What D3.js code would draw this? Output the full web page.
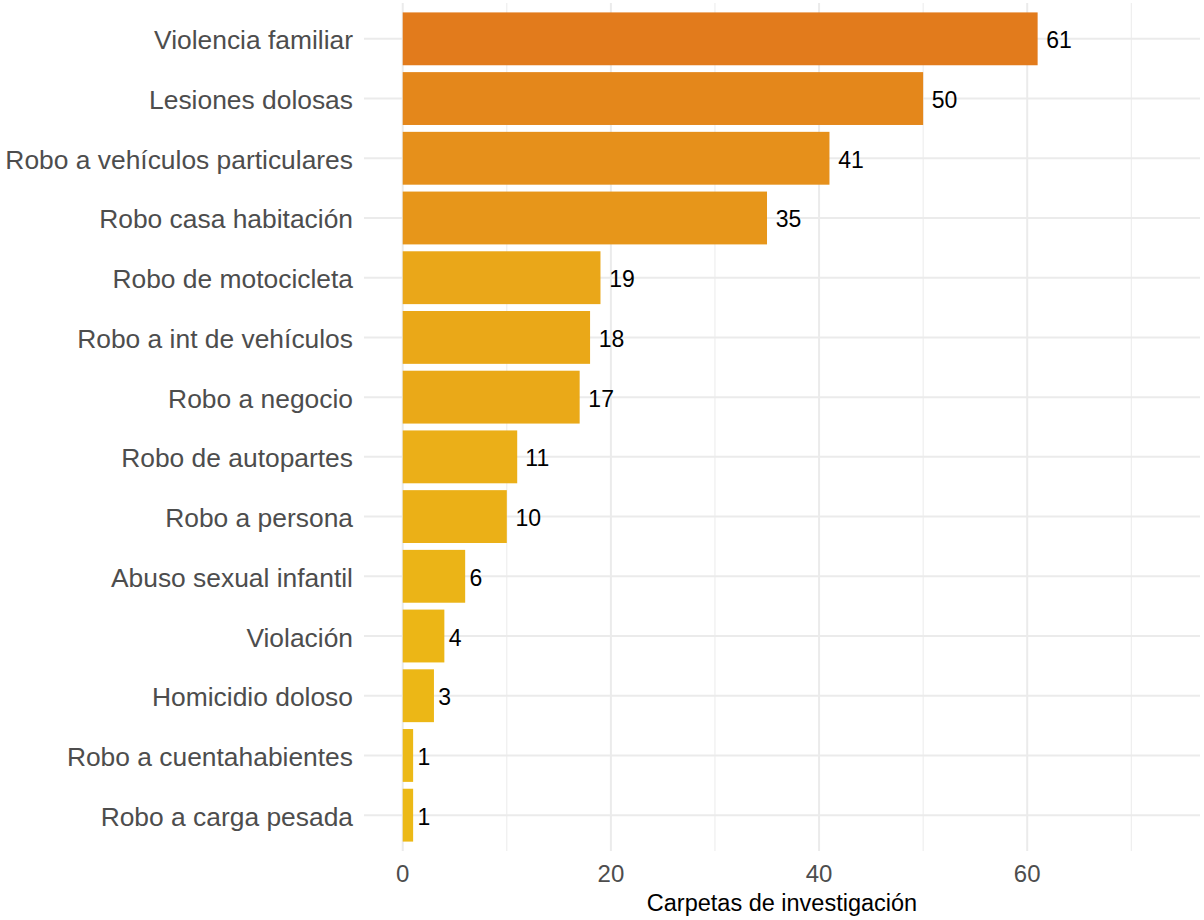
<!DOCTYPE html>
<html>
<head>
<meta charset="utf-8">
<script src="https://cdn.jsdelivr.net/npm/d3@7"></script>
<style>
  html, body { margin: 0; padding: 0; background: #ffffff; }
  svg { display: block; font-family: "Liberation Sans", Arial, sans-serif; }
</style>
</head>
<body>
<svg id="chart" width="1204" height="920"></svg>
<script>
const categories = [
  "Violencia familiar",
  "Lesiones dolosas",
  "Robo a vehículos particulares",
  "Robo casa habitación",
  "Robo de motocicleta",
  "Robo a int de vehículos",
  "Robo a negocio",
  "Robo de autopartes",
  "Robo a persona",
  "Abuso sexual infantil",
  "Violación",
  "Homicidio doloso",
  "Robo a cuentahabientes",
  "Robo a carga pesada"
];
const values = [61, 50, 41, 35, 19, 18, 17, 11, 10, 6, 4, 3, 1, 1];
const xTicks = [0, 20, 40, 60];
const xMinorTicks = [10, 30, 50, 70];
const xTitle = "Carpetas de investigación";
const colorLow = "#ECB916";
const colorHigh = "#E27B1C";

const svg = d3.select("#chart");
const panel = { left: 364, right: 1200, top: 3, bottom: 851 };

const x = d3.scaleLinear().domain([-3.72, 76.6]).range([panel.left, panel.right]);
// ggplot discrete expansion: 0.6 units each side
const y = d3.scalePoint().domain(categories)
  .range([panel.top, panel.bottom]).padding(0.6);
const step = y.step();
const barH = step * 0.885;

const color = d3.scaleLinear().domain([1, 61]).range([colorLow, colorHigh]).interpolate(d3.interpolateLab);

const grid = svg.append("g");
grid.selectAll("line.minor").data(xMinorTicks).enter().append("line")
  .attr("x1", d => x(d)).attr("x2", d => x(d))
  .attr("y1", panel.top).attr("y2", panel.bottom)
  .attr("stroke", "#EBEBEB").attr("stroke-width", 1);
grid.selectAll("line.major").data(xTicks).enter().append("line")
  .attr("x1", d => x(d)).attr("x2", d => x(d))
  .attr("y1", panel.top).attr("y2", panel.bottom)
  .attr("stroke", "#EBEBEB").attr("stroke-width", 2);
grid.selectAll("line.h").data(categories).enter().append("line")
  .attr("x1", panel.left).attr("x2", panel.right)
  .attr("y1", d => y(d)).attr("y2", d => y(d))
  .attr("stroke", "#EBEBEB").attr("stroke-width", 2);

// bars
svg.append("g").selectAll("rect").data(categories).enter().append("rect")
  .attr("x", x(0))
  .attr("y", d => y(d) - barH / 2)
  .attr("width", (d, i) => x(values[i]) - x(0))
  .attr("height", barH)
  .attr("fill", (d, i) => color(values[i]));

// value labels (hjust ~ -0.35)
const vl = svg.append("g").selectAll("text").data(categories).enter().append("text")
  .attr("y", d => y(d) + 9.5)
  .attr("font-size", 23)
  .attr("fill", "#000000")
  .text((d, i) => values[i]);
vl.attr("x", function(d, i) { return x(values[i]) + 0.34 * this.getComputedTextLength(); });

// y axis labels
svg.append("g").selectAll("text").data(categories).enter().append("text")
  .attr("x", 353)
  .attr("y", d => y(d) + 10.5)
  .attr("text-anchor", "end")
  .attr("font-size", 26.4)
  .attr("fill", "#4D4D4D")
  .text(d => d);

// x axis tick labels
svg.append("g").selectAll("text").data(xTicks).enter().append("text")
  .attr("x", d => x(d))
  .attr("y", 882)
  .attr("text-anchor", "middle")
  .attr("font-size", 24)
  .attr("fill", "#4D4D4D")
  .text(d => d);

// x axis title
svg.append("text")
  .attr("x", (panel.left + panel.right) / 2)
  .attr("y", 911)
  .attr("text-anchor", "middle")
  .attr("font-size", 23.5)
  .attr("fill", "#000000")
  .text(xTitle);
</script>
</body>
</html>
